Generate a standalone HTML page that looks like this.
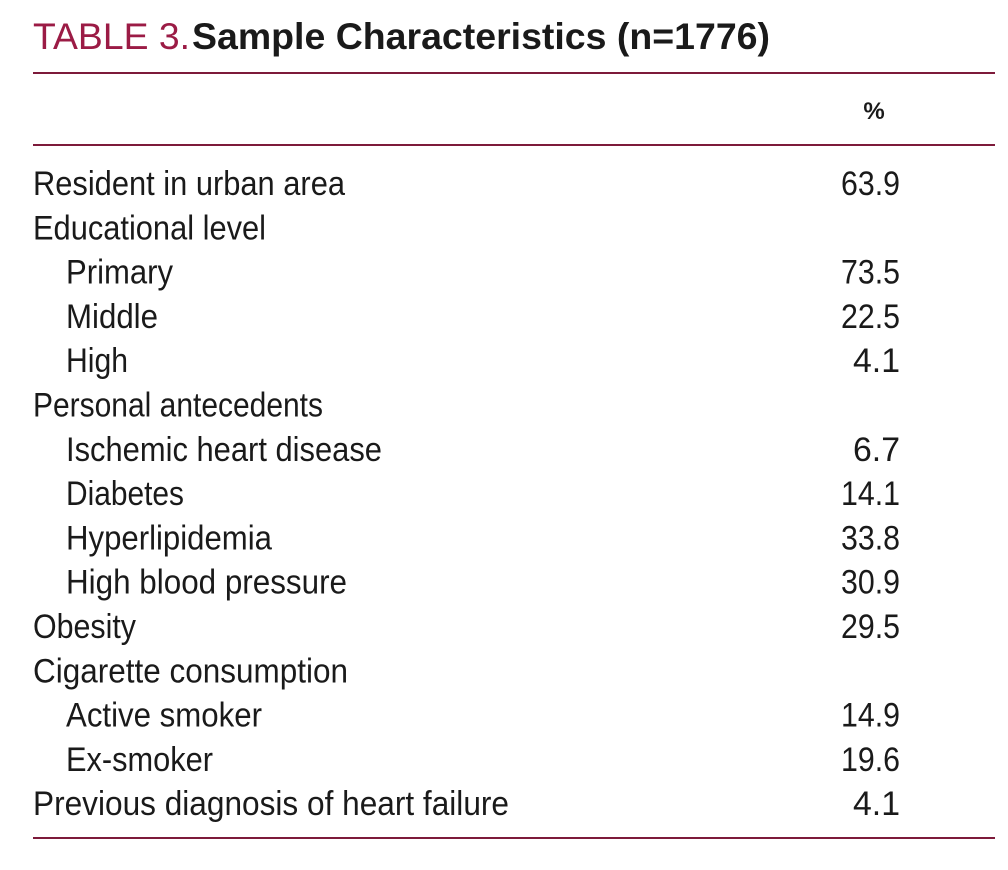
<!DOCTYPE html>
<html><head><meta charset="utf-8"><style>
html,body{margin:0;padding:0;background:#fff;width:1008px;height:870px;overflow:hidden}
svg text{font-family:"Liberation Sans Narrow","Liberation Sans",sans-serif;fill:#1a1a1a}
</style></head><body>
<svg width="1008" height="870">
<text x="33" y="49" font-size="37" textLength="157" lengthAdjust="spacingAndGlyphs" style="font-family:'Liberation Sans',sans-serif;fill:#9b1b45">TABLE 3.</text>
<text x="192" y="49" font-size="37" font-weight="bold" textLength="578" lengthAdjust="spacingAndGlyphs" style="font-family:'Liberation Sans',sans-serif">Sample Characteristics (n=1776)</text>
<line x1="33" y1="73" x2="995" y2="73" stroke="#7d1a3a" stroke-width="2"/>
<text x="874" y="119" font-size="24" font-weight="bold" text-anchor="middle">%</text>
<line x1="33" y1="145" x2="995" y2="145" stroke="#7d1a3a" stroke-width="2"/>
<g id="rows"></g>
<line x1="33" y1="838" x2="995" y2="838" stroke="#7d1a3a" stroke-width="2"/>
</svg>
<script>
const labels=["Resident in urban area","Educational level","Primary","Middle","High","Personal antecedents","Ischemic heart disease","Diabetes","Hyperlipidemia","High blood pressure","Obesity","Cigarette consumption","Active smoker","Ex-smoker","Previous diagnosis of heart failure"];
const values=["63.9","","73.5","22.5","4.1","","6.7","14.1","33.8","30.9","29.5","","14.9","19.6","4.1"];
const indent=[0,0,1,1,1,0,1,1,1,1,0,0,1,1,0];
const widths=[312,233,107,92,62,290,316,118,206,281,103,315,196,147,476];
const g=document.getElementById('rows');
const NS='http://www.w3.org/2000/svg';
labels.forEach((l,i)=>{
  const y=195+i*44.3;
  const x=indent[i]?66:33;
  const t=document.createElementNS(NS,'text');
  t.setAttribute('x',x);t.setAttribute('y',y);t.setAttribute('font-size','34');
  t.setAttribute('textLength',widths[i]);t.setAttribute('lengthAdjust','spacingAndGlyphs');
  t.textContent=l;
  
  
  g.appendChild(t);
  if(values[i]){
    const v=document.createElementNS(NS,'text');
    const w=values[i].length>=4?59:47;
    v.setAttribute('x',900-w);v.setAttribute('y',y);v.setAttribute('font-size','34');
    v.setAttribute('textLength',w);v.setAttribute('lengthAdjust','spacingAndGlyphs');
    v.textContent=values[i];
    
    
    g.appendChild(v);
  }
});
</script>
</body></html>
